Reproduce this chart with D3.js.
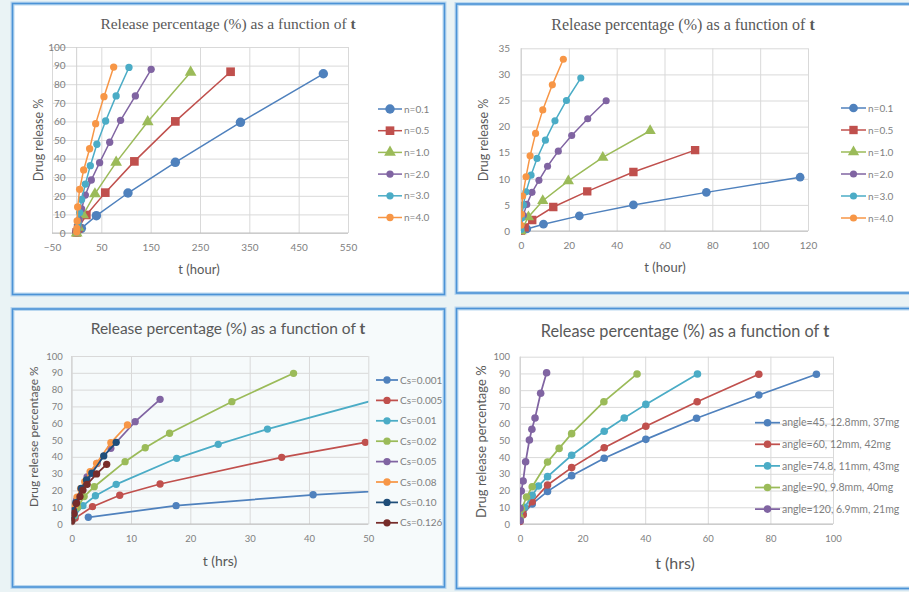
<!DOCTYPE html>
<html>
<head>
<meta charset="utf-8">
<script src="https://cdn.jsdelivr.net/npm/d3@7"></script>
<style>
body { margin: 0; background: #eaf3f5; }
svg { display: block; }
</style>
</head>
<body>
<svg id="chart" width="909" height="592"></svg>
<script>
// ---- data: [t, release %] ----
var legendA = ["n=0.1", "n=0.5", "n=1.0", "n=2.0", "n=3.0", "n=4.0"]
var a_n01 = [[0,0.5],[9.5,2.5],[40,9.3],[104,21.5],[200,38],[332,59.5],[500,85.6]]
var a_n05 = [[0,0.3],[3,2.5],[19.6,9.7],[58,21.7],[117,38.5],[200,60],[312,86.7]]
var a_n10 = [[0,0],[4,3],[13,9.7],[37,21],[80,38],[144,59.8],[231,86.4]]
var a_n20 = [[0,1],[2,3],[5,7],[10,13],[17.6,20.4],[29.7,28.5],[46.5,37.8],[67,48.8],[89,60.6],[119,73.7],[151,88]]
var a_n30 = [[0,0.5],[1,2],[3,5],[6,11],[10,18],[17.6,26.3],[27.7,36.2],[41,47.7],[58.7,60.2],[80,73.7],[106,89]]
var a_n40 = [[0,0.5],[0.5,2.5],[1,6.5],[2,14],[6,23.5],[14.2,33.9],[26.3,45.3],[38.5,58.8],[55.3,73.3],[75,89.2]]

var legendB = legendA
var b_n01 = [[0,0.1],[2.4,0.4],[9.4,1.3],[24.4,2.9],[47,5.0],[77.5,7.4],[116.7,10.3]]
var b_n05 = [[0,0.1],[1.5,0.7],[4.7,2.1],[13.5,4.6],[27.7,7.6],[47,11.3],[72.8,15.5]]
var b_n10 = [[0,0],[3.1,2.7],[9.1,5.8],[19.8,9.6],[34.2,14.1],[54,19.2]]
var b_n20 = [[0,1],[1,3],[2.4,5.1],[4.6,7.4],[7.5,9.7],[11.1,12.4],[15.6,15.3],[21.2,18.3],[27.9,21.5],[35.6,24.95]]
var b_n30 = [[0,0.3],[0.3,2.5],[1,5],[2.1,7.5],[4.2,10.7],[6.7,13.9],[10.2,17.4],[14.2,21.1],[19,25],[25,29.3]]
var b_n40 = [[0,1.1],[0.2,3.2],[0.7,6.7],[2.1,10.4],[3.8,14.4],[6.1,18.7],[9.1,23.2],[13.1,28],[17.7,32.9]]

var legendC = ["Cs=0.001", "Cs=0.005", "Cs=0.01", "Cs=0.02", "Cs=0.05", "Cs=0.08", "Cs=0.10", "Cs=0.126"]
var c_001 = [[2.8,4],[17.6,10.9],[40.7,17.4],[80,25]]
var c_005 = [[0,1.5],[0.6,3.5],[3.5,10.3],[8.1,17.1],[14.9,23.8],[35.4,39.7],[49.5,48.6]]
var c_01 = [[0,2],[0.5,5],[1.9,10.9],[4,16.8],[7.5,23.6],[17.7,39.1],[24.7,47.4],[33,56.5],[58,80.5]]
var c_02 = [[0,2],[0.3,5],[1,10],[2.1,16.3],[3.8,22.2],[9,37.1],[12.4,45.4],[16.5,54],[27,72.8],[37.4,89.7]]
var c_05 = [[0,2],[0.3,8],[0.8,14],[1.6,21],[2.6,28],[4.3,36],[6.6,45.1],[10.7,60.9],[14.9,74.2]]
var c_08 = [[0,2],[0.2,6],[0.5,11],[0.9,16],[1.5,21],[2.2,25.2],[3.1,31.1],[4.2,36.1],[6.6,48.4],[9.4,59]]
var c_10 = [[0,2],[0.1,5],[0.3,8],[0.7,12.7],[1.6,21.2],[2.5,26.2],[3.4,30.2],[5.4,40.5],[7.5,48.6]]
var c_126 = [[0,2],[0.4,6.3],[0.8,12.3],[1.4,16.3],[1.9,20.2],[2.6,23.6],[4.2,29.8],[5.9,35.5]]

var legendD = ["angle=45, 12.8mm, 37mg", "angle=60, 12mm, 42mg", "angle=74.8, 11mm, 43mg", "angle=90, 9.8mm, 40mg", "angle=120, 6.9mm, 21mg"]
var d_45 = [[0,1.8],[1,6],[3.9,12],[8.8,19.5],[16.5,28.9],[26.9,39.3],[40.2,50.6],[56.4,63.2],[76.3,77.1],[94.7,89.5]]
var d_60 = [[0,1.5],[1,5.5],[3.9,13.3],[8.8,23.3],[16.5,33.7],[26.9,45.6],[40.2,58.4],[56.6,73.1],[76.3,89.5]]
var d_748 = [[0,3],[1.5,10],[3.9,17.1],[5.9,22.7],[8.8,28.3],[16.5,41.1],[26.9,55.4],[33.3,63.4],[40.2,71.5],[56.7,89.7]]
var d_90 = [[0,4],[0.5,9],[2.1,16.1],[3.9,22.3],[8.8,37.1],[12.5,45.2],[16.5,54],[26.8,73.1],[37.4,89.7]]
var d_120 = [[0,2],[0,9.4],[0.4,19.7],[1,25.7],[1.8,37.2],[3,50.2],[3.8,56.6],[4.8,63.4],[6.6,78.1],[8.5,90.4]]

var ticksA_x = [-50, 50, 150, 250, 350, 450, 550], ticksA_y = d3.range(0, 101, 10)
var ticksB_x = d3.range(0, 121, 20), ticksB_y = d3.range(0, 36, 5)
var ticksC_x = d3.range(0, 51, 10), ticksC_y = d3.range(0, 101, 10)
var ticksD_x = d3.range(0, 101, 20), ticksD_y = d3.range(0, 101, 10)

// ---- styling ----
var col = {blue:"#4f81bd", red:"#c0504d", green:"#9bbb59", purple:"#8064a2", cyan:"#4bacc6",
	orange:"#f79646", navy:"#1f4e79", dred:"#772c2a"}
var sans = "Lato, 'Open Sans', sans-serif",
	serif = "'Liberation Serif', 'DejaVu Serif', serif"

var svg = d3.select("#chart")
var clipId = 0

var drawPanel = function(p) {
	var g = svg.append("g")

	g.append("rect")
		.attr("x", p.box[0]).attr("y", p.box[1])
		.attr("width", p.box[2]).attr("height", p.box[3])
		.attr("fill", p.bg).attr("stroke", "#b9d7ef").attr("stroke-width", 4)
	g.append("rect")
		.attr("x", p.box[0]).attr("y", p.box[1])
		.attr("width", p.box[2]).attr("height", p.box[3])
		.attr("fill", "none").attr("stroke", "#4c93d6").attr("stroke-width", 1.6)

	var x = d3.scaleLinear().domain(p.xDom).range(p.xRange),
		y = d3.scaleLinear().domain(p.yDom).range(p.yRange)
	var w = p.xRange[1] - p.xRange[0],
		h = p.yRange[0] - p.yRange[1]

	// gridlines
	g.append("g")
		.attr("transform", "translate(" + p.xRange[0] + ",0)")
		.call(d3.axisLeft(y).tickValues(p.yTicks).tickSize(-w).tickFormat(""))
		.call(function(s) { s.select(".domain").remove() })
		.selectAll("line").attr("stroke", "#d9d9d9")
	g.append("g")
		.attr("transform", "translate(0," + p.yRange[0] + ")")
		.call(d3.axisBottom(x).tickValues(p.xTicks).tickSize(-h).tickFormat(""))
		.call(function(s) { s.select(".domain").remove() })
		.selectAll("line").attr("stroke", "#d9d9d9")

	// axis lines
	g.append("line")
		.attr("x1", p.xRange[0]).attr("x2", p.xRange[1])
		.attr("y1", y(0)).attr("y2", y(0))
		.attr("stroke", "#bfbfbf")
	g.append("line")
		.attr("x1", x(0)).attr("x2", x(0))
		.attr("y1", p.yRange[0]).attr("y2", p.yRange[1])
		.attr("stroke", "#d0d0d0")

	// tick labels
	g.append("g")
		.attr("transform", "translate(" + (x(0) - p.yGap) + ",0)")
		.call(d3.axisLeft(y).tickValues(p.yTicks).tickSize(0).tickPadding(0))
		.call(function(s) { s.select(".domain").remove() })
		.selectAll("text")
		.attr("font-family", sans).attr("font-size", p.tickSize).attr("fill", "#808080")
	g.append("g")
		.attr("transform", "translate(0," + p.xLabY + ")")
		.call(d3.axisBottom(x).tickValues(p.xTicks).tickSize(0).tickPadding(0))
		.call(function(s) { s.select(".domain").remove() })
		.selectAll("text")
		.attr("font-family", sans).attr("font-size", p.tickSize).attr("fill", "#808080")

	// series
	var cid = "clip" + (clipId++)
	g.append("clipPath").attr("id", cid)
		.append("rect")
		.attr("x", p.xRange[0]).attr("y", p.yRange[1] - 6)
		.attr("width", w).attr("height", h + 12)

	var line = d3.line().x(function(d) { return x(d[0]) }).y(function(d) { return y(d[1]) })
	var plot = g.append("g").attr("clip-path", "url(#" + cid + ")")

	p.series.forEach(function(s, i) {
		plot.append("path")
			.attr("d", line(s))
			.attr("fill", "none")
			.attr("stroke", p.colors[i])
			.attr("stroke-width", p.lineW)
		plot.selectAll(".m" + i)
			.data(s.filter(function(d) { return d[0] <= p.xDom[1] }))
			.enter()
			.append("path")
			.attr("class", "m" + i)
			.attr("transform", function(d) { return "translate(" + x(d[0]) + "," + y(d[1]) + ")" })
			.attr("d", d3.symbol().type(p.shapes[i]).size(p.sizes[i]))
			.attr("fill", p.colors[i])
	})

	// legend
	var lg = g.append("g")
	p.legend.forEach(function(name, i) {
		var ly = p.leg.y + i * p.leg.dy
		lg.append("line")
			.attr("x1", p.leg.x1).attr("x2", p.leg.x2)
			.attr("y1", ly).attr("y2", ly)
			.attr("stroke", p.colors[i]).attr("stroke-width", p.lineW)
		lg.append("path")
			.attr("transform", "translate(" + ((p.leg.x1 + p.leg.x2) / 2) + "," + ly + ")")
			.attr("d", d3.symbol().type(p.shapes[i]).size(p.sizes[i]))
			.attr("fill", p.colors[i])
		lg.append("text")
			.attr("x", p.leg.x2 + 2).attr("y", ly)
			.attr("dy", "0.35em")
			.attr("font-family", sans).attr("font-size", p.leg.size).attr("fill", "#7f7f7f")
			.text(name)
	})

	// titles
	var t = g.append("text")
		.attr("x", p.title[0]).attr("y", p.title[1])
		.attr("text-anchor", "middle")
		.attr("font-family", p.titleFont).attr("font-size", p.title[2]).attr("fill", "#595959")
	t.append("tspan").text("Release percentage (%) as a function of ")
	t.append("tspan").attr("font-weight", "bold").text("t")

	g.append("text")
		.attr("x", p.xTitle[0]).attr("y", p.xTitle[1])
		.attr("text-anchor", "middle")
		.attr("font-family", sans).attr("font-size", p.xTitle[2]).attr("fill", "#595959")
		.text(p.xLabel)
	g.append("text")
		.attr("transform", "translate(" + p.yTitle[0] + "," + p.yTitle[1] + ") rotate(-90)")
		.attr("text-anchor", "middle").attr("dy", "0.35em")
		.attr("font-family", sans).attr("font-size", p.yTitle[2]).attr("fill", "#595959")
		.text(p.yLabel)
}

var circ = d3.symbolCircle, sq = d3.symbolSquare, tri = d3.symbolTriangle

drawPanel({
	box: [12.5, 3.5, 432, 291], bg: "#ffffff",
	xDom: [-50, 550], xRange: [52, 348], yDom: [0, 100], yRange: [233, 47],
	xTicks: ticksA_x, yTicks: ticksA_y, yGap: 11, xLabY: 244, tickSize: 10,
	series: [a_n01, a_n05, a_n10, a_n20, a_n30, a_n40],
	colors: [col.blue, col.red, col.green, col.purple, col.cyan, col.orange],
	shapes: [circ, sq, tri, circ, circ, circ], sizes: [70, 75, 60, 42, 42, 42], lineW: 1.5,
	legend: legendA, leg: {x1: 378, x2: 402, y: 109, dy: 21.7, size: 10},
	title: [228, 29, 15.5], titleFont: serif,
	xLabel: "t (hour)", xTitle: [199, 274, 13],
	yLabel: "Drug release %", yTitle: [39, 140, 12.5]
})

drawPanel({
	box: [456.5, 4, 460, 289], bg: "#ffffff",
	xDom: [0, 120], xRange: [521, 808], yDom: [0, 35], yRange: [231, 48.3],
	xTicks: ticksB_x, yTicks: ticksB_y, yGap: 11, xLabY: 242, tickSize: 10,
	series: [b_n01, b_n05, b_n10, b_n20, b_n30, b_n40],
	colors: [col.blue, col.red, col.green, col.purple, col.cyan, col.orange],
	shapes: [circ, sq, tri, circ, circ, circ], sizes: [60, 70, 55, 40, 40, 40], lineW: 1.5,
	legend: legendB, leg: {x1: 841, x2: 866, y: 108, dy: 22, size: 10},
	title: [683, 29.5, 16], titleFont: serif,
	xLabel: "t (hour)", xTitle: [665, 272, 13],
	yLabel: "Drug release %", yTitle: [484, 140, 12.5]
})

drawPanel({
	box: [12.5, 309, 432, 278], bg: "#f6fafb",
	xDom: [0, 50], xRange: [71.7, 368.3], yDom: [0, 100], yRange: [524, 356],
	xTicks: ticksC_x, yTicks: ticksC_y, yGap: 9, xLabY: 535, tickSize: 9.5,
	series: [c_001, c_005, c_01, c_02, c_05, c_08, c_10, c_126],
	colors: [col.blue, col.red, col.cyan, col.green, col.purple, col.orange, col.navy, col.dred],
	shapes: [circ, circ, circ, circ, circ, circ, circ, circ], sizes: [42, 42, 42, 42, 42, 42, 42, 42], lineW: 1.75,
	legend: legendC, leg: {x1: 376, x2: 398, y: 380, dy: 20.4, size: 10},
	title: [228, 333.5, 15.5], titleFont: sans,
	xLabel: "t (hrs)", xTitle: [220, 566, 14],
	yLabel: "Drug release percentage %", yTitle: [33.3, 436.7, 12]
})

drawPanel({
	box: [456.5, 308.5, 460, 280], bg: "#ffffff",
	xDom: [0, 100], xRange: [520, 833], yDom: [0, 100], yRange: [524, 356.7],
	xTicks: ticksD_x, yTicks: ticksD_y, yGap: 10, xLabY: 535, tickSize: 9.5,
	series: [d_45, d_60, d_748, d_90, d_120],
	colors: [col.blue, col.red, col.cyan, col.green, col.purple],
	shapes: [circ, circ, circ, circ, circ], sizes: [45, 45, 45, 45, 45], lineW: 1.75,
	legend: legendD, leg: {x1: 755, x2: 780, y: 422.7, dy: 21.6, size: 10.5},
	title: [685, 336.5, 16.3], titleFont: sans,
	xLabel: "t (hrs)", xTitle: [675, 569, 16],
	yLabel: "Drug release percentage %", yTitle: [481, 441.7, 13]
})
</script>
</body>
</html>
